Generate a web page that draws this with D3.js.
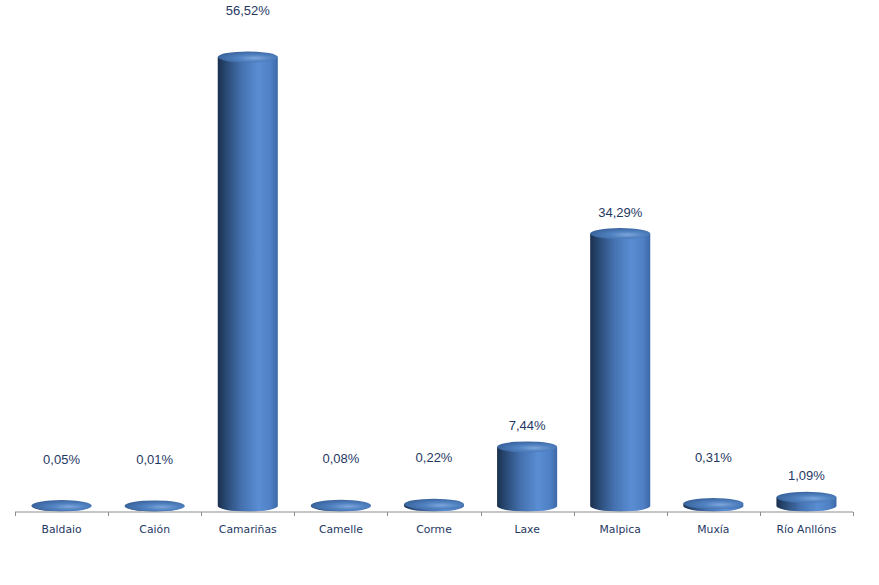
<!DOCTYPE html>
<html><head><meta charset="utf-8">
<script src="https://cdn.jsdelivr.net/npm/d3@7/dist/d3.min.js"></script>
<style>body{margin:0;background:#fff}svg{display:block}</style>
</head><body>
<script>
const categories = ["Baldaio","Caión","Camariñas","Camelle","Corme","Laxe","Malpica","Muxía","Río Anllóns"];
const values = [0.05,0.01,56.52,0.08,0.22,7.44,34.29,0.31,1.09];
const valueLabels = ["0,05%","0,01%","56,52%","0,08%","0,22%","7,44%","34,29%","0,31%","1,09%"];

const W=879,H=585;
const svg=d3.select("body").append("svg").attr("width",W).attr("height",H);
const defs=svg.append("defs");
const lg=defs.append("linearGradient").attr("id","body").attr("x1","0").attr("x2","1").attr("y1","0").attr("y2","0");
[[0,"#1a2f4e"],[0.12,"#27466f"],[0.4,"#4572b0"],[0.68,"#5a8dd3"],[0.88,"#4f80c5"],[1,"#3c68a6"]].forEach(s=>lg.append("stop").attr("offset",s[0]).attr("stop-color",s[1]));
const rg=defs.append("radialGradient").attr("id","top").attr("cx","0.62").attr("cy","0.6").attr("r","0.6");
[[0,"#7ea6da"],[0.45,"#5283c2"],[1,"#3b66a0"]].forEach(s=>rg.append("stop").attr("offset",s[0]).attr("stop-color",s[1]));

const x=d3.scaleBand().domain(categories).range([15,853]).paddingInner(0.355).paddingOuter(0.1775);
const y=d3.scaleLinear().domain([0,56.52]).range([506,57]);
const ry=5.5, axisY=512;
const bw=x.bandwidth(), rx=bw/2;

const g=svg.append("g");
categories.forEach((c,i)=>{
  const cx=x(c)+rx, yb=y(0), yt=y(values[i]);
  const l=cx-rx, r=cx+rx;
  g.append("path").attr("d",`M${l},${yt} L${l},${yb} A${rx},${ry} 0 0 0 ${r},${yb} L${r},${yt} Z`).attr("fill","url(#body)");
  g.append("ellipse").attr("cx",cx).attr("cy",yt).attr("rx",rx).attr("ry",ry).attr("fill","url(#top)");
  const lift=(values[i]<1||values[i]>50)?47:22;
  g.append("text").attr("x",cx).attr("y",yt-lift+5).attr("text-anchor","middle")
    .attr("font-family","Liberation Sans, Arial, sans-serif").attr("font-size","13px").attr("fill","#1f3864").text(valueLabels[i]);
});

// axis
const ax=svg.append("g");
const [r0,r1]=x.range();
ax.append("line").attr("x1",r0).attr("x2",r1).attr("y1",axisY).attr("y2",axisY).attr("stroke","#8c8c8c").attr("stroke-width",1);
d3.range(categories.length+1).forEach(i=>{
  const tx=Math.round(r0+i*x.step())+0.5;
  ax.append("line").attr("x1",tx).attr("x2",tx).attr("y1",axisY).attr("y2",axisY+4).attr("stroke","#8c8c8c");
});
const axisG=svg.append("g").attr("transform",`translate(0,${axisY})`).call(d3.axisBottom(x).tickSize(0).tickPadding(13));
axisG.select(".domain").remove();
axisG.selectAll("text").attr("font-family","DejaVu Sans, sans-serif").attr("font-size","10.8px").attr("fill","#1f3864");
</script>
</body></html>
